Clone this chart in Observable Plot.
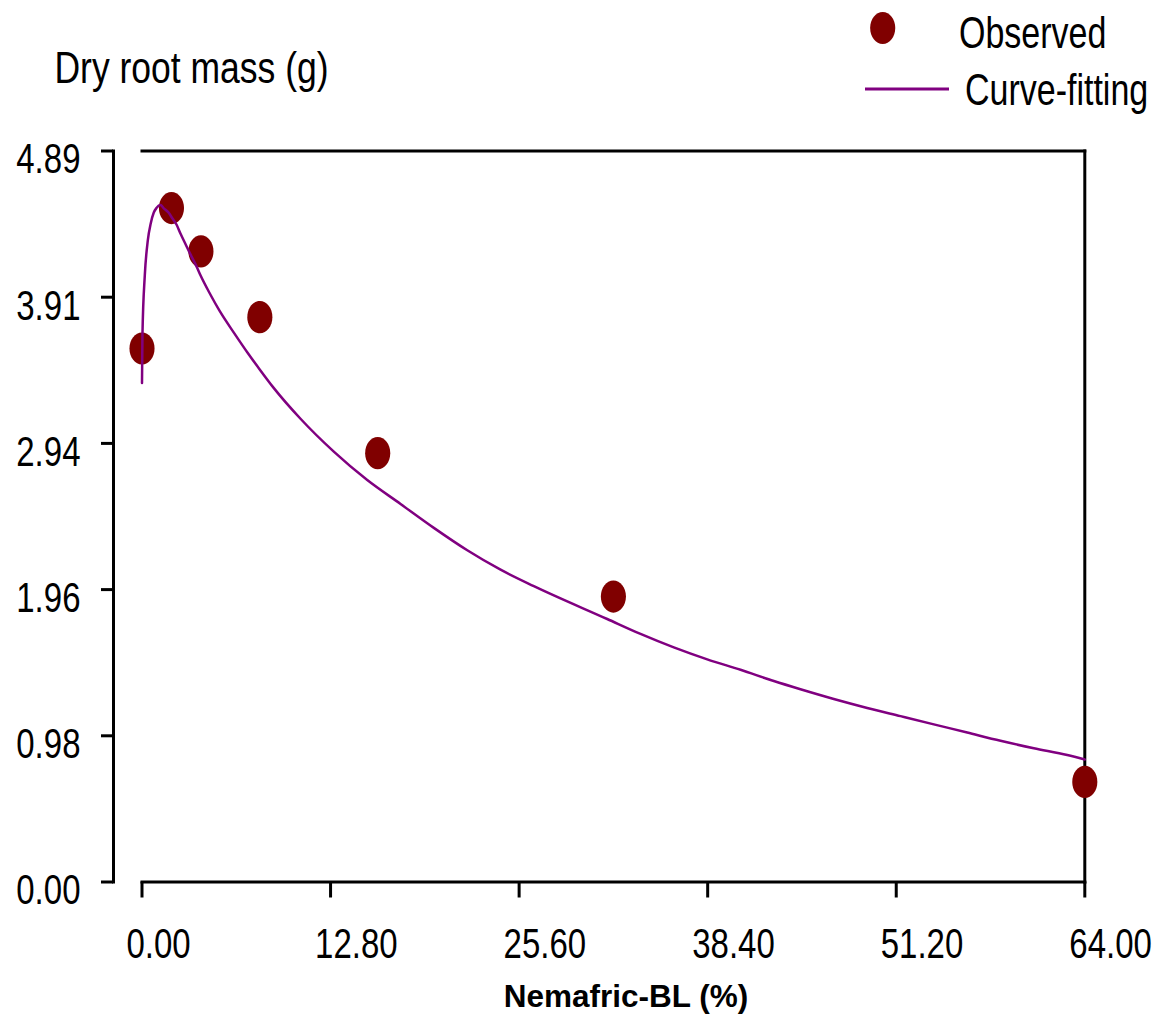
<!DOCTYPE html>
<html><head><meta charset="utf-8">
<script src="https://cdn.jsdelivr.net/npm/d3@7"></script>
<script src="https://cdn.jsdelivr.net/npm/@observablehq/plot@0.6"></script>
<style>
html,body{margin:0;padding:0;background:#fff;}
#chart{width:1162px;height:1017px;}
</style></head><body><div id="chart"></div>
<script>
// Observed values
const doseObserved = [0, 2, 4, 8, 16, 32, 64];
const massObserved = [3.57, 4.51, 4.22, 3.78, 2.87, 1.91, 0.67];
// Fitted curve
const fitDose = [0, 0.03, 0.19, 0.39, 0.60, 0.80, 0.98, 1.26, 1.46, 1.80, 2.07, 2.34, 2.61, 2.95, 3.29, 3.70, 3.97, 4.65, 5.28, 6.28, 7.18, 7.99, 8.91, 10.76, 13.02, 15.29, 17.55, 19.81, 22.08, 24.34, 26.60, 31.58, 33.84, 36.10, 38.37, 40.63, 42.89, 44.70, 46.96, 49.23, 51.49, 53.75, 56.02, 58.28, 60.54, 62.81, 64];
const fitMass = [3.34, 3.66, 4.06, 4.29, 4.41, 4.48, 4.51, 4.53, 4.51, 4.48, 4.44, 4.40, 4.34, 4.27, 4.20, 4.12, 4.06, 3.93, 3.82, 3.67, 3.54, 3.43, 3.31, 3.10, 2.88, 2.69, 2.53, 2.37, 2.22, 2.09, 1.98, 1.76, 1.66, 1.57, 1.49, 1.42, 1.345, 1.29, 1.225, 1.165, 1.11, 1.055, 1.0, 0.945, 0.895, 0.85, 0.82];
// Ticks
const xTicks = [0, 12.8, 25.6, 38.4, 51.2, 64];
const yTicks = [0, 0.9784, 1.9568, 2.9352, 3.9136, 4.892];
// Texts
const yTitle = "Dry root mass (g)";
const xTitle = "Nemafric-BL (%)";
const legendLabels = ["Observed", "Curve-fitting"];

const observed = doseObserved.map((d, i) => ({dose: d, mass: massObserved[i]}));
const fitted = fitDose.map((d, i) => ({dose: d, mass: fitMass[i]}));

const FONT = "'Liberation Sans', Arial, sans-serif";
const DOT = "#800000", LINE = "#800080";

const ellipse = {
  draw(context, size) {
    const r = Math.sqrt(size / Math.PI);
    const rx = r * 0.93, ry = r * 1.19, k = 0.5523;
    context.moveTo(rx, 0);
    context.bezierCurveTo(rx, ry * k, rx * k, ry, 0, ry);
    context.bezierCurveTo(-rx * k, ry, -rx, ry * k, -rx, 0);
    context.bezierCurveTo(-rx, -ry * k, -rx * k, -ry, 0, -ry);
    context.bezierCurveTo(rx * k, -ry, rx, -ry * k, rx, 0);
    context.closePath();
  }
};

const fmt = d => d.toFixed(2);

const chart = Plot.plot({
  width: 1162,
  height: 1017,
  marginLeft: 141.5,
  marginRight: 77.7,
  marginTop: 150.5,
  marginBottom: 135.5,
  style: {fontFamily: FONT, fontSize: "33px", color: "black", background: "white"},
  x: {domain: [0, 64]},
  y: {domain: [0, 4.892]},
  marks: [
    Plot.frame({anchor: "top", stroke: "black", strokeWidth: 3}),
    Plot.frame({anchor: "right", stroke: "black", strokeWidth: 3}),
    Plot.frame({anchor: "bottom", stroke: "black", strokeWidth: 3}),
    Plot.frame({anchor: "left", dx: -28.5, stroke: "black", strokeWidth: 3}),
    Plot.axisY({ticks: yTicks, tickFormat: () => "", tickSize: 12, dx: -28.5, strokeWidth: 3, label: null}),
    Plot.axisY({ticks: yTicks, tickFormat: fmt, tickSize: 0, tickPadding: 33, dx: -28.5, dy: 8.4, label: null, fontSize: 33}),
    Plot.axisX({ticks: xTicks, tickFormat: () => "", tickSize: 16, strokeWidth: 3, label: null}),
    Plot.axisX({ticks: xTicks, tickFormat: fmt, tickSize: 0, tickPadding: 49, dx: -15.5, textAnchor: "start", label: null, fontSize: 33}),
    Plot.dot(observed, {x: "dose", y: "mass", r: 13.5, symbol: ellipse, fill: DOT, stroke: "none"}),
    Plot.line(fitted, {x: "dose", y: "mass", stroke: LINE, strokeWidth: 2.5, curve: "monotone-x"})
  ]
});
document.getElementById("chart").appendChild(chart);

function stretch(el, k) {
  const b = el.getBBox();
  const cy = b.y + b.height / 2;
  const t = el.getAttribute("transform") || "";
  el.setAttribute("transform", `${t} translate(0,${cy}) scale(1,${k}) translate(0,${-cy})`);
}

const svg = d3.select(chart);
svg.selectAll("text").each(function() {
  if ((this.textContent || "").trim() !== "") stretch(this, 1.29);
});

// Y-axis title
const yt = svg.append("text").attr("x", 54.5).attr("y", 80).attr("text-anchor", "start")
  .attr("font-family", FONT).attr("font-size", 35.5).attr("fill", "black").text(yTitle);
stretch(yt.node(), 1.23);

// X-axis title
svg.append("text").attr("x", 626).attr("y", 1006.5).attr("text-anchor", "middle")
  .attr("font-family", FONT).attr("font-size", 31.5).attr("font-weight", "bold")
  .attr("fill", "black").text(xTitle);

// Legend
const lg = svg.append("g").attr("text-anchor", "start");
lg.append("path").attr("transform", "translate(882.7,28)")
  .attr("d", d3.symbol(ellipse, 13.5 * 13.5 * Math.PI)()).attr("fill", DOT);
lg.append("line").attr("x1", 865).attr("x2", 949).attr("y1", 89).attr("y2", 89)
  .attr("stroke", LINE).attr("stroke-width", 3);
const t1 = lg.append("text").attr("x", 959).attr("y", 44.2).attr("font-family", FONT)
  .attr("font-size", 34).attr("fill", "black").text(legendLabels[0]);
const t2 = lg.append("text").attr("x", 965).attr("y", 101.5).attr("font-family", FONT)
  .attr("font-size", 34).attr("fill", "black").text(legendLabels[1]);
stretch(t1.node(), 1.31);
stretch(t2.node(), 1.31);
</script></body></html>
